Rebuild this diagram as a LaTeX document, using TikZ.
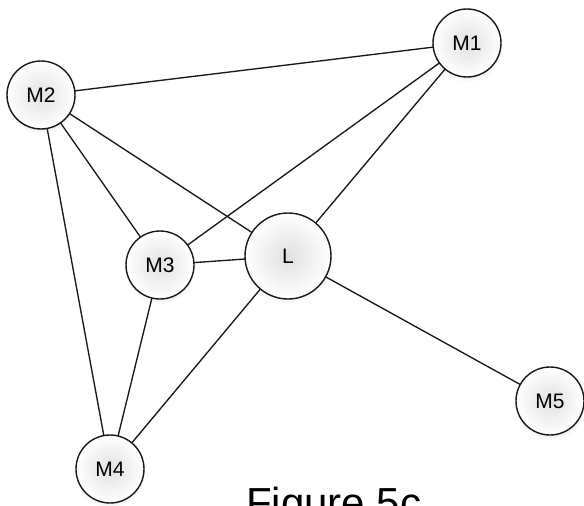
\documentclass[tikz,border=0pt]{standalone}
\usepackage{fontspec}
\setmainfont{Liberation Sans}
\usetikzlibrary{shadows}
\begin{document}
\begin{tikzpicture}[x=1pt,y=-1pt,
  agent/.style={circle, draw=black!90, line width=1.4pt, minimum size=68pt, inner sep=0pt,
    shading=radial, inner color=black!12, outer color=white,
    circular drop shadow={shadow xshift=0pt, shadow yshift=-3pt, opacity=0.12, shadow scale=1.06},
    font=\fontsize{21}{22}\selectfont},
  leader/.style={agent, minimum size=86pt},
  link/.style={draw=black!90, line width=1.35pt}]
\useasboundingbox (0,0) rectangle (584,506);
% node centres
\coordinate (p1) at (467,43);
\coordinate (p2) at (41,95);
\coordinate (p3) at (160,265);
\coordinate (pL) at (288,256);
\coordinate (p4) at (110,469);
\coordinate (p5) at (550,401);
% links drawn first so the circles cover their ends
\draw[link] (p2) -- (p1);
\draw[link] (p2) -- (p3);
\draw[link] (p2) -- (pL);
\draw[link] (p2) -- (p4);
\draw[link] (p1) -- (p3);
\draw[link] (p1) -- (pL);
\draw[link] (p3) -- (pL);
\draw[link] (p3) -- (p4);
\draw[link] (pL) -- (p4);
\draw[link] (pL) -- (p5);
\node[agent] (M1) at (p1) {M1};
\node[agent] (M2) at (p2) {M2};
\node[agent] (M3) at (p3) {M3};
\node[leader] (L) at (pL) {L};
\node[agent] (M4) at (p4) {M4};
\node[agent] (M5) at (p5) {M5};
\node[anchor=base west, inner sep=0pt, font=\fontsize{42}{44}\selectfont] (cap) at (246,517) {Figure 5c};
\end{tikzpicture}
\end{document}
